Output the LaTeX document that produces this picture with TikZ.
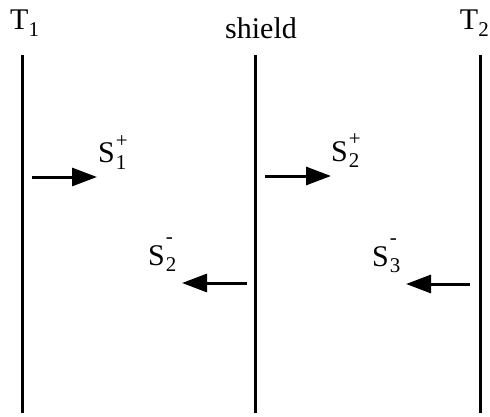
\documentclass[tikz,border=0pt]{standalone}
\usepackage{fontspec}
\setmainfont{Liberation Serif}
\usetikzlibrary{arrows.meta}
\def\walltop{55}
\def\wallbot{413}
\newcommand\smallsz{\fontsize{21}{21}\selectfont}
\newcommand\slab[3]{S\rlap{\kern1pt\raisebox{-6pt}{\smallsz #1}}\kern1pt\raisebox{#3}{\smallsz #2}}
\newcommand\tlab[1]{T\raisebox{-7pt}{\smallsz #1}}

\begin{document}
\begin{tikzpicture}[x=1pt, y=-1pt, font=\fontsize{30}{34}\selectfont,
    wall/.style={line width=2.5pt},
    flux/.style={line width=3pt, -{Triangle[length=25pt, width=18pt]}},
    lab/.style={anchor=base west, inner sep=0pt}]
  \useasboundingbox (0,0) rectangle (490,417);

  % walls
  \coordinate (w1t) at (22.5,\walltop);
  \coordinate (w1b) at (22.5,\wallbot);
  \coordinate (w2t) at (255.5,\walltop);
  \coordinate (w2b) at (255.5,\wallbot);
  \coordinate (w3t) at (480.5,\walltop);
  \coordinate (w3b) at (480.5,\wallbot);
  \draw[wall] (w1t) -- (w1b);
  \draw[wall] (w2t) -- (w2b);
  \draw[wall] (w3t) -- (w3b);

  \node[lab] (tone) at (10,30) {\tlab{1}};
  \node[anchor=base, inner sep=0pt] (shield) at (261,39) {shield};
  \node[anchor=base east, inner sep=0pt] (ttwo) at (489,30) {\tlab{2}};

  % fluxes
  \coordinate (f1s) at (32,177);
  \coordinate (f1e) at (97,177);
  \coordinate (f2s) at (265,176);
  \coordinate (f2e) at (331,176);
  \coordinate (f3s) at (247,283);
  \coordinate (f3e) at (182,283);
  \coordinate (f4s) at (470,284);
  \coordinate (f4e) at (406,284);
  \draw[flux] (f1s) -- (f1e);
  \draw[flux] (f2s) -- (f2e);
  \draw[flux] (f3s) -- (f3e);
  \draw[flux] (f4s) -- (f4e);

  \node[lab] (sonep) at (98,163) {\slab{1}{+}{16pt}};
  \node[lab] (stwop) at (331,161) {\slab{2}{+}{16pt}};
  \node[lab] (stwom) at (148,265) {\slab{2}{-}{22pt}};
  \node[lab] (sthreem) at (372,266) {\slab{3}{-}{22pt}};
\end{tikzpicture}
\end{document}
